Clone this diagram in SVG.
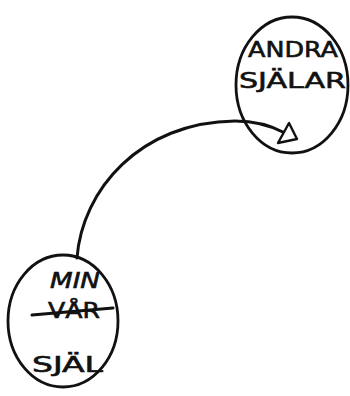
<svg xmlns="http://www.w3.org/2000/svg" width="350" height="396" viewBox="0 0 350 396">
<style>
.ring{fill:none;stroke:#111;stroke-width:2.8}
.lbl{font-family:"DejaVu Sans",sans-serif;font-size:21px;fill:#111;stroke:#111;stroke-width:0.6}
.conn{fill:none;stroke:#111;stroke-width:3;stroke-linecap:round}
</style>
<rect width="350" height="396" fill="#fff"/>
<g id="andra">
<ellipse class="ring" cx="292" cy="85" rx="56" ry="68"/>
<text class="lbl" x="248" y="57" textLength="90" lengthAdjust="spacingAndGlyphs">ANDRA</text>
<text class="lbl" x="239" y="88" textLength="107" lengthAdjust="spacingAndGlyphs">SJÄLAR</text>
</g>
<g id="min">
<ellipse class="ring" cx="63" cy="321" rx="55" ry="66"/>
<text class="lbl" x="50" y="288" textLength="50" lengthAdjust="spacingAndGlyphs" font-style="italic">MIN</text>
<text class="lbl" x="48" y="318" textLength="52" lengthAdjust="spacingAndGlyphs">VÅR</text>
<path class="conn" d="M32,315 L113,308" stroke-width="2"/>
<text class="lbl" x="32" y="372" textLength="71" lengthAdjust="spacingAndGlyphs">SJÄL</text>
</g>
<g id="connectors">
<path class="conn" d="M77,258 C82,190 140,122 235,121 C255,121 272,126 285,133"/>
<polygon points="289,123 278,143 297,139" fill="#fff" stroke="#111" stroke-width="2.4" stroke-linejoin="round"/>
</g>
</svg>
